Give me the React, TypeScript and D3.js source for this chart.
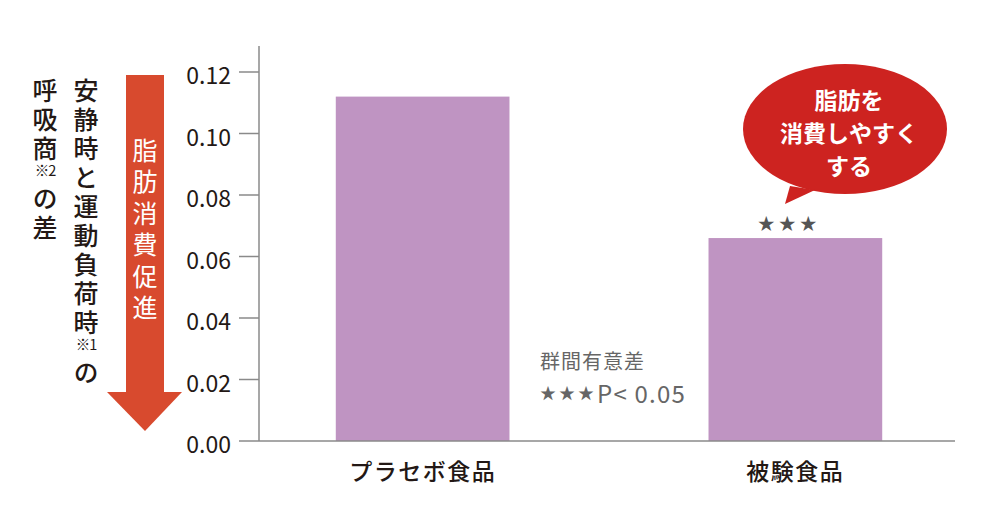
import * as d3 from 'd3'

const categories = ['プラセボ食品', '被験食品']
const values = [0.112, 0.066]
const yTicks = [0, 0.02, 0.04, 0.06, 0.08, 0.1, 0.12]
// y title, two vertical columns; each entry is one run of text
const titleCol1 = ['安静時と運動負荷時', '※1', 'の']
const titleCol2 = ['呼吸商', '※2', 'の差']
const arrowLabel = '脂肪消費促進'
const balloonLines = ['脂肪を', '消費しやすく', 'する']
const sigMark = '***'
const noteLines = ['群間有意差', '***P< 0.05']

const W = 1002
const H = 528
const FONT = '"Noto Sans CJK JP", "Noto Sans", sans-serif'
const BAR = '#BF94C2'
const AXIS = '#8a8a8a'
const TEXT = '#231815'
const STAR = (s: string) => s.replace(/\*/g, '★')

export default function App() {
  const x = d3.scaleBand<string>().domain(categories).range([259, 959]).paddingInner(0.534).paddingOuter(0.206)
  const y = d3.scaleLinear().domain([0, 0.12]).range([441, 72])

  // vertical column: full-width runs go top-to-bottom, "※n" notes sit small & horizontal
  const column = (runs: string[], cx: number, top: number, step: number, size: number, fill: string, weight = 500) => {
    let cy = top
    return runs.map((r, i) => {
      if (r.startsWith('※')) {
        const el = (
          <text key={i} x={cx} y={cy + 5} textAnchor="middle" dominantBaseline="central" fontSize={size * 0.58} fill={fill} letterSpacing={-1}>
            {r}
          </text>
        )
        cy += step * 0.75
        return el
      }
      const el = (
        <text
          key={i}
          x={cx}
          y={cy}
          fontSize={size}
          fontWeight={weight}
          fill={fill}
          letterSpacing={step - size}
          style={{ writingMode: 'vertical-rl' }}
        >
          {r}
        </text>
      )
      cy += step * [...r].length
      return el
    })
  }

  const ellipse = { cx: 845, cy: 129, rx: 102, ry: 65 }
  const tail = d3.line()([
    [790, 186],
    [785, 204],
    [815, 190],
  ])

  return (
    <svg width={W} height={H} style={{ display: 'block', margin: -8 }} fontFamily={FONT}>
      <rect width={W} height={H} fill="#fff" />

      {/* y title */}
      {column(titleCol2, 45, 77.5, 29, 25, TEXT)}
      {column(titleCol1, 86, 77.5, 29, 25, TEXT)}

      {/* arrow */}
      <rect x={126} y={75} width={38} height={318} fill="#D84A2E" />
      <path d={d3.line()([[107, 392], [182, 392], [145, 431]]) ?? ''} fill="#D84A2E" />
      {column([arrowLabel], 145, 137.5, 31.5, 25, '#fff', 400)}

      {/* y axis */}
      <line x1={259} x2={259} y1={46} y2={441} stroke={AXIS} strokeWidth={1.5} />
      {yTicks.map((t) => (
        <g key={t}>
          <line x1={239} x2={259} y1={y(t)} y2={y(t)} stroke={AXIS} strokeWidth={1.5} />
          <text x={231} y={y(t) + 2} textAnchor="end" dominantBaseline="central" fontSize={23} fill={TEXT}>
            {d3.format('.2f')(t)}
          </text>
        </g>
      ))}

      {/* bars */}
      {categories.map((c, i) => (
        <rect key={c} x={x(c)} y={y(values[i])} width={x.bandwidth()} height={y(0) - y(values[i])} fill={BAR} />
      ))}

      {/* x axis */}
      <line x1={259} x2={955} y1={441} y2={441} stroke={AXIS} strokeWidth={1.5} />
      {categories.map((c) => (
        <text
          key={c}
          x={(x(c) ?? 0) + x.bandwidth() / 2}
          y={470}
          textAnchor="middle"
          dominantBaseline="central"
          fontSize={23}
          fontWeight={500}
          letterSpacing={1.5}
          fill={TEXT}
        >
          {c}
        </text>
      ))}

      {/* significance */}
      <text
        x={(x(categories[1]) ?? 0) + x.bandwidth() / 2 - 6}
        y={y(values[1]) - 16}
        textAnchor="middle"
        dominantBaseline="central"
        fontSize={17}
        letterSpacing={4}
        fill="#555"
      >
        {STAR(sigMark)}
      </text>
      <text x={540} y={360} dominantBaseline="central" fontSize={20} fill="#666" letterSpacing={1}>
        {noteLines[0]}
      </text>
      <text x={540} y={392} dominantBaseline="central" fontSize={24} fill="#666" letterSpacing={1.2}>
        <tspan fontSize={16} letterSpacing={3}>{STAR(noteLines[1].slice(0, 3))}</tspan>
        <tspan>{noteLines[1].slice(3)}</tspan>
      </text>

      {/* balloon */}
      <ellipse {...ellipse} fill="#CD2320" />
      <path d={tail ?? ''} fill="#CD2320" />
      {balloonLines.map((l, i) => (
        <text
          key={i}
          x={849}
          y={99 + i * 33}
          textAnchor="middle"
          dominantBaseline="central"
          fontSize={23}
          fontWeight={700}
          fill="#fff"
        >
          {l}
        </text>
      ))}
    </svg>
  )
}
